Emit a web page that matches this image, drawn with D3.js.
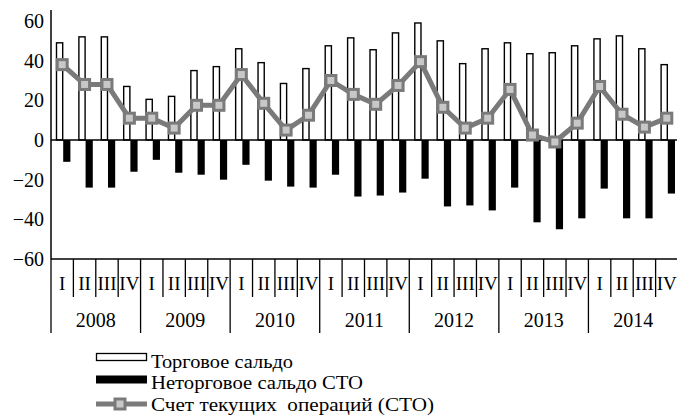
<!DOCTYPE html>
<html><head><meta charset="utf-8">
<script src="https://cdn.jsdelivr.net/npm/d3@7"></script>
<style>body{margin:0;background:#fff}svg{display:block}text{font-family:"Liberation Serif","Times New Roman",serif;fill:#000;white-space:pre}</style>
</head><body><svg id="c" width="677" height="418"></svg>
<script>
const years = ["2008","2009","2010","2011","2012","2013","2014"];
const quarters = ["I","II","III","IV"];
const yTicks = [60,40,20,0,-20,-40,-60];
const tradeBalance = [49,52,52,27, 20.5,22,35,37, 46,39,28.5,36, 47.5,51.5,45.5,54, 59,50,38.5,46, 49,43.5,44,47.5, 51,52.5,46,38];
const nonTradeBalance = [-11,-24,-24,-16, -10,-16.5,-17.5,-20, -12.5,-20.5,-23.5,-24, -17.5,-28.5,-28,-26.5, -19.5,-33.5,-33,-35.5, -24,-41.5,-45,-39.5, -24.5,-39.5,-39.5,-27];
const currentAccount = [38,28,28,11, 11,6,17.5,17.5, 33,18.5,5,12.5, 30,23,18,27.5, 39.5,16.5,6,11, 25.5,2.5,-1,8.5, 27,13,6.5,11];
const legendLabels = ["Торговое сальдо","Неторговое сальдо СТО","Счет текущих  операций (СТО)"];

const keys = [];
years.forEach(y => quarters.forEach(q => keys.push(y + "-" + q)));

const svg = d3.select("#c");
const x = d3.scaleBand().domain(keys).range([51, 678]).padding(0);
const sub = d3.scaleBand().domain(["t","n"]).range([5, 19.4]).padding(0);
const y = d3.scaleLinear().domain([-60, 60]).range([259, 21]);

// y axis line
svg.append("line").attr("x1",51).attr("x2",51).attr("y1",10).attr("y2",259).attr("stroke","#000").attr("stroke-width",1.5);
// y tick labels
svg.selectAll(".yl").data(yTicks).enter().append("text")
  .attr("x",44).attr("y",d=>y(d)).attr("dy","0.35em").attr("text-anchor","end")
  .style("font-size","20px").text(d => d < 0 ? "\u2212" + Math.abs(d) : d);

// bars
const g = svg.append("g");
g.selectAll(".tb").data(tradeBalance).enter().append("rect")
  .attr("x",(d,i)=>x(keys[i]) + sub("t") + 0.5).attr("width",sub.bandwidth()-1)
  .attr("y",d=>y(d)).attr("height",d=>y(0)-y(d))
  .attr("fill","#fff").attr("stroke","#000").attr("stroke-width",1.4);
g.selectAll(".nb").data(nonTradeBalance).enter().append("rect")
  .attr("x",(d,i)=>x(keys[i]) + sub("n")).attr("width",sub.bandwidth())
  .attr("y",y(0)).attr("height",d=>y(d)-y(0))
  .attr("fill","#000");

// zero line
svg.append("line").attr("x1",51).attr("x2",677).attr("y1",y(0)).attr("y2",y(0)).attr("stroke","#000").attr("stroke-width",1.5);

// current account line
const cx = (i) => x(keys[i]) + x.bandwidth()/2;
const line = d3.line().x((d,i)=>cx(i)).y(d=>y(d));
svg.append("path").datum(currentAccount).attr("d",line).attr("fill","none")
  .attr("stroke","#7a7a7a").attr("stroke-width",5).attr("stroke-linejoin","round");
svg.selectAll(".mk").data(currentAccount).enter().append("rect")
  .attr("x",(d,i)=>cx(i)-5).attr("y",d=>y(d)-5).attr("width",10).attr("height",10)
  .attr("fill","#c8c8c8").attr("stroke","#7a7a7a").attr("stroke-width",3);

// x axis
svg.append("line").attr("x1",51).attr("x2",677).attr("y1",259).attr("y2",259).attr("stroke","#000").attr("stroke-width",1.5);
keys.forEach((k,i) => {
  const isYear = i % 4 === 0;
  svg.append("line").attr("x1",x(k)).attr("x2",x(k)).attr("y1",259).attr("y2",isYear?333:297)
    .attr("stroke","#000").attr("stroke-width",1.3);
  svg.append("text").attr("x",cx(i)).attr("y",283).attr("dy","0.35em").attr("text-anchor","middle")
    .style("font-size","19px").text(quarters[i%4]);
});
years.forEach((yr,j) => {
  const x0 = x(yr + "-I"), x1 = x(yr + "-IV") + x.bandwidth();
  svg.append("text").attr("x",(x0+x1)/2).attr("y",320).attr("dy","0.35em").attr("text-anchor","middle")
    .style("font-size","20px").text(yr);
});

// legend
const lg = svg.append("g");
lg.append("rect").attr("x",96.5).attr("y",353.5).attr("width",50).attr("height",7).attr("fill","#fff").attr("stroke","#000").attr("stroke-width",1.3);
lg.append("rect").attr("x",96).attr("y",375.5).attr("width",51).attr("height",8).attr("fill","#000");
lg.append("line").attr("x1",96).attr("x2",147).attr("y1",404).attr("y2",404).attr("stroke","#7a7a7a").attr("stroke-width",5);
lg.append("rect").attr("x",115).attr("y",399).attr("width",10).attr("height",10).attr("fill","#c8c8c8").attr("stroke","#7a7a7a").attr("stroke-width",3);
const legendY = [367.5, 388.5, 410.5];
const legendW = [142, 212, 283];
legendLabels.forEach((t,i) => {
  lg.append("text").attr("x",151).attr("y",legendY[i]).style("font-size","18.5px")
    .attr("textLength",legendW[i]).attr("lengthAdjust","spacingAndGlyphs").text(t);
});
</script></body></html>
